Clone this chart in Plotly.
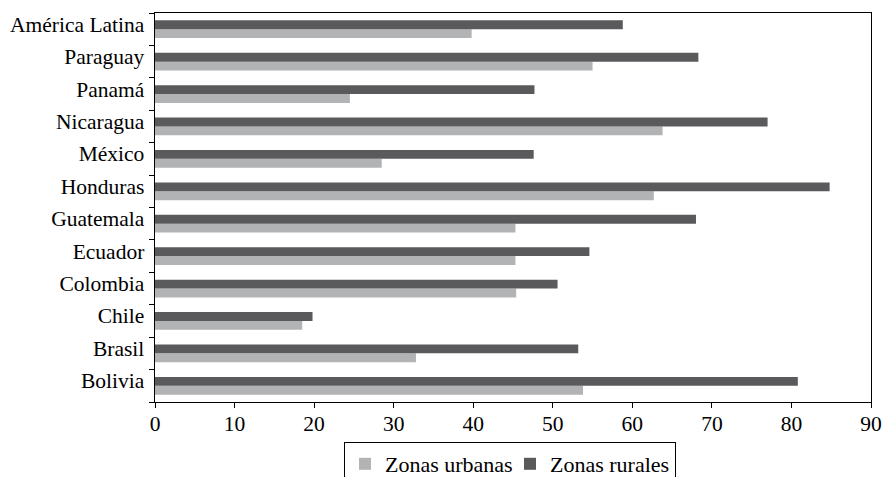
import plotly.graph_objects as go

categories = ["Bolivia", "Brasil", "Chile", "Colombia", "Ecuador", "Guatemala",
              "Honduras", "México", "Nicaragua", "Panamá", "Paraguay", "América Latina"]
urbanas = [53.8, 32.8, 18.5, 45.4, 45.3, 45.3, 62.7, 28.5, 63.8, 24.5, 55.0, 39.8]
rurales = [80.8, 53.2, 19.8, 50.6, 54.6, 68.0, 84.8, 47.6, 77.0, 47.7, 68.3, 58.8]
x_ticks = [0, 10, 20, 30, 40, 50, 60, 70, 80, 90]

fig = go.Figure()
fig.add_trace(go.Bar(y=categories, x=urbanas, orientation="h", name="Zonas urbanas",
                     marker=dict(color="#b2b3b5", line=dict(width=0))))
fig.add_trace(go.Bar(y=categories, x=rurales, orientation="h", name="Zonas rurales",
                     marker=dict(color="#5a5a5c", line=dict(width=0))))

fig.update_layout(
    width=883, height=477,
    margin=dict(l=155, r=12, t=13, b=75, autoexpand=False),
    paper_bgcolor="white", plot_bgcolor="white",
    barmode="group", bargap=0.45, bargroupgap=0,
    font=dict(family="Liberation Serif, Times New Roman, serif", size=21.5, color="black"),
    showlegend=True,
    legend=dict(orientation="h", x=510 / 883, xanchor="center", xref="container",
                y=1 - 442 / 477, yanchor="top", yref="container",
                bordercolor="black", borderwidth=1, font=dict(size=22),
                traceorder="normal", itemwidth=30, tracegroupgap=0,
                entrywidth=120, entrywidthmode="pixels"),
)
fig.update_xaxes(range=[0, 90], tickvals=x_ticks, ticks="outside", ticklen=5,
                 tickcolor="black", showline=True, linecolor="black", linewidth=1,
                 mirror=True, showgrid=False, zeroline=False, automargin=False,
                 ticklabelstandoff=-3)
fig.update_yaxes(type="category", categoryorder="array", categoryarray=categories,
                 tickson="boundaries", ticks="outside", ticklen=5, tickcolor="black",
                 showline=True, linecolor="black", linewidth=1, mirror=True,
                 showgrid=False, zeroline=False, ticksuffix=" ", automargin=False,
                 ticklabelshift=-5)

fig.write_html("out.html", config={"displayModeBar": False},
               post_script="document.body.style.margin='0';document.body.style.overflow='hidden';")
